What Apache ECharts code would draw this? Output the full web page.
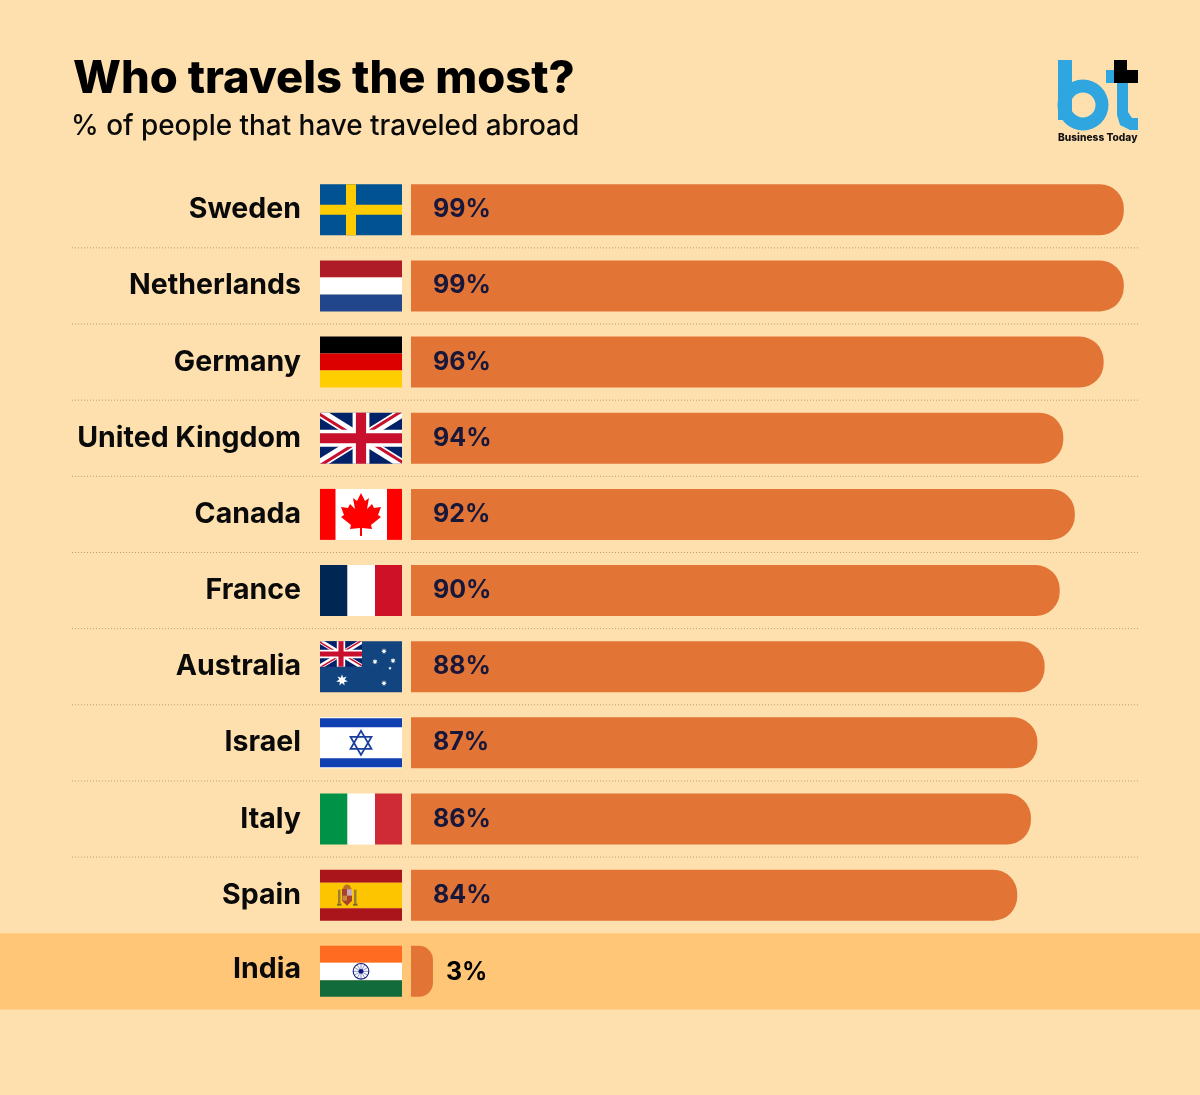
<!DOCTYPE html>
<html>
<head>
<meta charset="utf-8">
<style>html,body{margin:0;padding:0;background:#FEE0AF}#c{width:1200px;height:1095px}</style>
<script src="https://cdn.jsdelivr.net/npm/echarts@6/dist/echarts.min.js"></script>
</head>
<body>
<div id="c"></div>
<script>
const categories = ['Sweden','Netherlands','Germany','United Kingdom','Canada','France','Australia','Israel','Italy','Spain','India'];
// Printed percentages
const shareValues = [99,99,96,94,92,90,88,87,86,84,3];
// Bar lengths as drawn in the picture (UK bar is drawn shorter than its printed label)
const barLengths = [99,99,96.2,90.6,92.2,90.1,88,87,86.1,84.2,3.05];
const highlighted = ['India'];

const FONT = 'Inter';
const W = 82, H = 51;
const rect = (x,y,w,h,fill)=>({type:'rect',shape:{x,y,width:w,height:h},style:{fill}});
const poly = (points,fill,stroke,lw)=>({type:'polygon',shape:{points},style:stroke?{fill:fill||'none',stroke,lineWidth:lw}:{fill}});
const circ = (cx,cy,r,fill)=>({type:'circle',shape:{cx,cy,r},style:{fill}});
const line = (x1,y1,x2,y2,stroke,lw)=>({type:'line',shape:{x1,y1,x2,y2},style:{stroke,lineWidth:lw}});
function star(cx,cy,r,n,inner,fill){
  const p=[];
  for(let i=0;i<n*2;i++){const a=-Math.PI/2+i*Math.PI/n,q=i%2?r*inner:r;p.push([cx+q*Math.cos(a),cy+q*Math.sin(a)]);}
  return poly(p,fill);
}
function jack(w,h,ox,oy){
  const navy='#012169',red='#C8102E',wh='#FFFFFF';
  const t=h*0.11,sx=t*w/h, tr=h*0.07,srx=tr*w/h;
  const d=(a,c)=>poly(a.map(q=>[ox+q[0],oy+q[1]]),c);
  const cx=w/2,cy=h/2;
  const out=[rect(ox,oy,w,h,navy)];
  out.push(d([[0,0],[sx,0],[w,h-t],[w,h],[w-sx,h],[0,t]],wh));
  out.push(d([[w,0],[w-sx,0],[0,h-t],[0,h],[sx,h],[w,t]],wh));
  // counterchanged red diagonals
  out.push(d([[0,0],[cx,cy],[cx-srx,cy],[0,tr]],red));
  out.push(d([[w,h],[cx,cy],[cx+srx,cy],[w,h-tr]],red));
  out.push(d([[w,0],[cx,cy],[cx-srx,cy],[w-srx,0]],red));
  out.push(d([[0,h],[cx,cy],[cx+srx,cy],[srx,h]],red));
  out.push(rect(ox+cx-h*0.165,oy,h*0.33,h,wh));
  out.push(rect(ox,oy+h*0.335,w,h*0.33,wh));
  out.push(rect(ox+cx-h*0.1,oy,h*0.2,h,red));
  out.push(rect(ox,oy+h*0.4,w,h*0.2,red));
  return out;
}
const flagPainters = {
  'Sweden':()=>[rect(0,0,W,H,'#005293'),rect(26,0,10,H,'#FECB00'),rect(0,20.5,W,10,'#FECB00')],
  'Netherlands':()=>[rect(0,0,W,17,'#AE1C28'),rect(0,17,W,17,'#FFFFFF'),rect(0,34,W,17,'#21468B')],
  'Germany':()=>[rect(0,0,W,17,'#000000'),rect(0,17,W,17,'#DD0000'),rect(0,34,W,17,'#FFCE00')],
  'United Kingdom':()=>jack(W,H,0,0),
  'Canada':()=>{
    const cx=41,p=[[0,-21],[4,-13],[8,-16],[6,-5],[11,-10],[13,-6],[20,-7],[17,1],[20,3],[10,11],[11,15],[1,14],[1,22],[-1,22],[-1,14],[-11,15],[-10,11],[-20,3],[-17,1],[-20,-7],[-13,-6],[-11,-10],[-6,-5],[-8,-16],[-4,-13]];
    return [rect(0,0,W,H,'#FFFFFF'),rect(0,0,15.5,H,'#FF0000'),rect(67,0,15,H,'#FF0000'),poly(p.map(q=>[cx+q[0],25+q[1]]),'#FF0000')];
  },
  'France':()=>[rect(0,0,27.5,H,'#002654'),rect(27.5,0,27.5,H,'#FFFFFF'),rect(55,0,27,H,'#CE1126')],
  'Australia':()=>{
    const b='#12447F',w='#FFFFFF';
    return [rect(0,0,W,H,b)].concat(jack(42,25.5,0,0),[
      star(22,39,6,7,0.45,w),star(64,10,3,7,0.45,w),star(55,20.5,3,7,0.45,w),
      star(73,19.5,3,7,0.45,w),star(70,27,1.8,5,0.45,w),star(64,42,3,7,0.45,w)]);
  },
  'Israel':()=>{
    const b='#0F3FB0',cx=41,cy=25.5,r=12;
    return [rect(0,0,W,H,'#FFFFFF'),rect(0,1,W,9,b),rect(0,41,W,9,b),
      poly([[cx,cy-r],[cx+r*.87,cy+r*.5],[cx-r*.87,cy+r*.5]],'none','#1B3F9E',1.8),
      poly([[cx,cy+r],[cx+r*.87,cy-r*.5],[cx-r*.87,cy-r*.5]],'none','#1B3F9E',1.8)];
  },
  'Italy':()=>[rect(0,0,27.5,H,'#009246'),rect(27.5,0,27.5,H,'#FFFFFF'),rect(55,0,27,H,'#CE2B37')],
  'Spain':()=>[rect(0,0,W,13,'#AA151B'),rect(0,13,W,25.5,'#FDC400'),rect(0,38.5,W,12.5,'#AA151B'),
    rect(18,20,2.5,14,'#9A7B3A'),rect(34,20,2.5,14,'#9A7B3A'),rect(17,34,4.5,2,'#7A6A30'),rect(33,34,4.5,2,'#7A6A30'),
    poly([[24,16],[27,14.5],[30,16],[31,19],[23,19]],'#B5702A'),
    poly([[22,19],[32,19],[32,31],[27,36],[22,31]],'#A8422A'),
    rect(27,19.5,5,6.5,'#C9A8B8'),rect(22.5,26,4.5,5,'#C98A3A')],
  'India':()=>{
    const c='#0B1A7A',cx=41,cy=25.5,sp=[];
    for(let i=0;i<12;i++){const a=i*Math.PI/6;sp.push(line(cx,cy,cx+7.5*Math.cos(a),cy+7.5*Math.sin(a),'#5B66B8',0.7));}
    return [rect(0,0,W,17,'#FF6B21'),rect(0,17,W,17.5,'#FFFFFF'),rect(0,34.5,W,16.5,'#116B3A')]
      .concat(sp,[{type:'ring',shape:{cx,cy,r:8.4,r0:7.3},style:{fill:c}},circ(cx,cy,2.4,c)]);
  }
};

const barData = barLengths.map((v,i)=>highlighted.includes(categories[i])
  ?{value:v,itemStyle:{borderRadius:[0,14,14,0]},label:{position:'right',distance:13,color:'#000',offset:[0,1.5]}}:v);

const chart = echarts.init(document.getElementById('c'));
chart.setOption({
  animation:false,
  backgroundColor:'#FEE0AF',
  title:[
    {text:'Who travels the most?',left:68,top:52,textStyle:{fontFamily:FONT,fontWeight:800,fontSize:45.3,color:'#000'}},
    {text:'% of people that have traveled abroad',left:66,top:108,textStyle:{fontFamily:FONT,fontWeight:500,fontSize:27.9,color:'#0A0A0A'}}
  ],
  grid:{left:411,top:171.7,width:720,height:837.7},
  xAxis:{type:'value',min:0,max:100,show:false},
  yAxis:{type:'category',inverse:true,data:categories,z:10,
    axisLine:{show:false},axisTick:{show:false},splitLine:{show:false},
    axisLabel:{margin:110,align:'right',fontFamily:FONT,fontWeight:700,fontSize:28.5,color:'#0A0A0A',
      formatter:v=>highlighted.includes(v)?'{up|'+v+'}':v,
      rich:{up:{fontFamily:FONT,fontWeight:700,fontSize:28.5,color:'#0A0A0A',padding:[0,0,3,0]}}}},
  graphic:[
    {type:'rect',z:10,shape:{x:1058,y:60,width:14,height:60},style:{fill:'#2FA6E0'}},
    {type:'ring',z:10,shape:{cx:1083,cy:105,r:25.5,r0:12.5},style:{fill:'#2FA6E0'}},
    {type:'rect',z:10,shape:{x:1106,y:70,width:8,height:13},style:{fill:'#2FA6E0'}},
    {type:'polygon',z:10,shape:{points:[[1117,83],[1128,83],[1128,112],[1132,118],[1138,118],[1138,130],[1130,130],[1120,125],[1117,115]]},style:{fill:'#2FA6E0'}},
    {type:'polygon',z:10,shape:{points:[[1114,60],[1127,60],[1127,70],[1138,70],[1138,83],[1114,83]]},style:{fill:'#000'}},
    {type:'text',z:10,style:{x:1058,y:133,text:'Business Today',fontFamily:FONT,fontWeight:800,fontSize:10.2,fill:'#111'}}
  ],
  series:[
    {type:'custom',z:1,silent:true,coordinateSystem:'cartesian2d',
     data:categories.map((c,i)=>[0,i]),
     renderItem:(p,api)=>{
       const i=api.value(1),pt=api.coord([0,i]),band=api.size([0,1])[1];
       const kids=[];
       if(highlighted.includes(categories[i])) kids.push(rect(0,pt[1]-band/2,1200,band,'#FFC678'));
       else if(!highlighted.includes(categories[i+1]))
         kids.push({type:'line',shape:{x1:72,y1:pt[1]+band/2,x2:1138,y2:pt[1]+band/2},
           style:{stroke:'#B59E78',lineWidth:1,lineDash:[1,2]}});
       return {type:'group',children:kids};
     }},
    {type:'bar',z:2,data:barData,barWidth:51,
     itemStyle:{color:'#E27436',borderRadius:[0,24,24,0]},
     label:{show:true,position:'insideLeft',distance:22,fontFamily:FONT,fontWeight:700,fontSize:25,color:'#17173A',
       formatter:o=>shareValues[o.dataIndex]+'%'}},
    {type:'custom',z:3,silent:true,coordinateSystem:'cartesian2d',
     data:categories.map((c,i)=>[0,i]),
     renderItem:(p,api)=>{
       const i=api.value(1),pt=api.coord([0,i]);
       return {type:'group',x:pt[0]-91,y:pt[1]-H/2,children:flagPainters[categories[i]]()};
     }}
  ]
});
</script>
</body>
</html>
